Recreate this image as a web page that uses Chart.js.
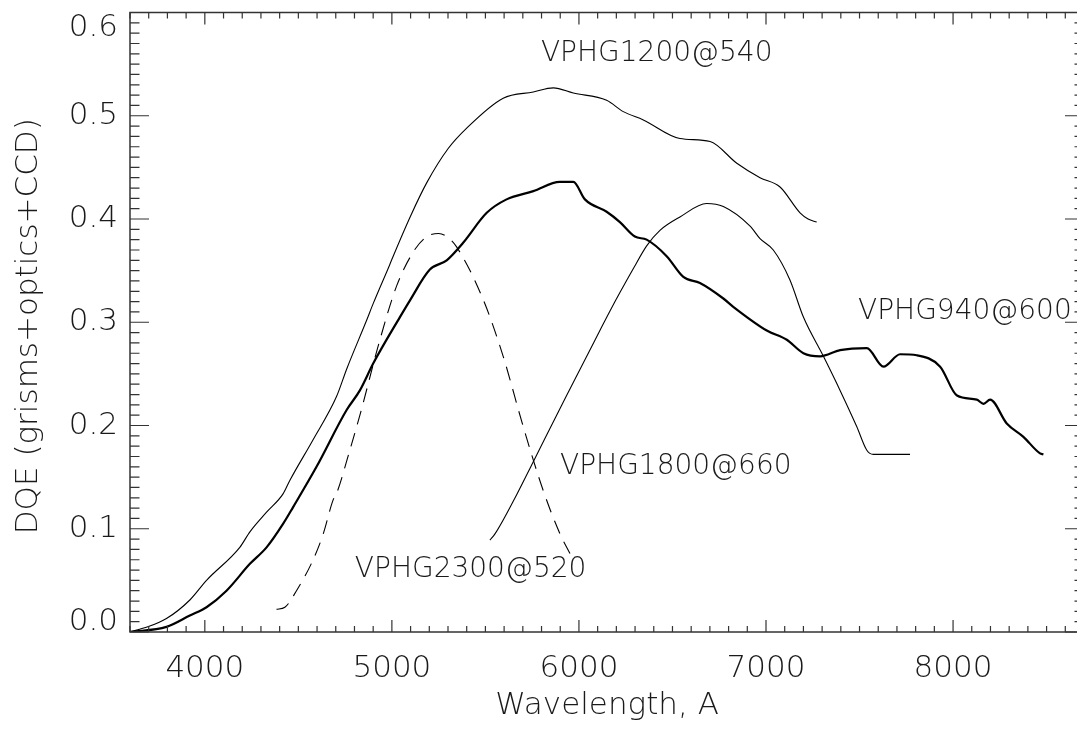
<!DOCTYPE html>
<html>
<head>
<meta charset="utf-8">
<title>DQE of the VPH grisms</title>
<script src="https://cdn.jsdelivr.net/npm/chart.js@4.4.0/dist/chart.umd.min.js"></script>
<style>
  html, body { margin: 0; padding: 0; background: #fff; }
  /* the right-hand axis of the original is cut off by the picture edge */
  #frame { width: 1077px; height: 729px; overflow: hidden; }
  #box { width: 1092px; height: 729px; }
</style>
</head>
<body>
<div id="frame"><div id="box"><canvas id="dqe-chart"></canvas></div></div>
<script>
// VPHG1200@540, thin solid
const wave1200 = [3599, 3695, 3795, 3920, 4009, 4187, 4241, 4330, 4419, 4455, 4578, 4704, 4759, 4865, 4900, 4989, 5007, 5100, 5186, 5300, 5400, 5595, 5756, 5863, 5970, 6148, 6237, 6344, 6540, 6701, 6844, 6968, 7075, 7182, 7225, 7271];
const dqe1200 = [0.0, 0.005, 0.013, 0.031, 0.050, 0.082, 0.097, 0.116, 0.134, 0.147, 0.186, 0.228, 0.255, 0.302, 0.318, 0.356, 0.364, 0.403, 0.435, 0.468, 0.488, 0.517, 0.523, 0.527, 0.522, 0.515, 0.504, 0.496, 0.478, 0.475, 0.454, 0.440, 0.431, 0.406, 0.400, 0.397];

// VPHG940@600, thick solid
const wave940 = [3599, 3795, 3920, 4009, 4116, 4241, 4330, 4419, 4472, 4597, 4758, 4829, 4900, 5043, 5096, 5203, 5293, 5381, 5507, 5613, 5756, 5898, 5970, 6032, 6148, 6219, 6299, 6362, 6469, 6558, 6647, 6772, 6825, 7004, 7111, 7200, 7289, 7396, 7539, 7628, 7717, 7806, 7931, 8021, 8127, 8163, 8198, 8287, 8376, 8465, 8483];
const dqe940 = [0.0, 0.005, 0.016, 0.024, 0.040, 0.066, 0.082, 0.105, 0.121, 0.160, 0.215, 0.234, 0.260, 0.305, 0.321, 0.351, 0.360, 0.377, 0.406, 0.419, 0.427, 0.436, 0.436, 0.419, 0.407, 0.397, 0.383, 0.380, 0.364, 0.344, 0.338, 0.323, 0.315, 0.292, 0.283, 0.270, 0.267, 0.273, 0.275, 0.257, 0.269, 0.268, 0.257, 0.229, 0.225, 0.221, 0.225, 0.202, 0.189, 0.173, 0.172];

// VPHG1800@660, thin solid
const wave1800 = [5524, 5551, 5667, 5756, 5934, 6112, 6166, 6291, 6362, 6433, 6540, 6683, 6772, 6915, 6968, 7039, 7128, 7200, 7307, 7396, 7485, 7539, 7574, 7770];
const dqe1800 = [0.089, 0.095, 0.133, 0.165, 0.229, 0.292, 0.311, 0.352, 0.374, 0.389, 0.402, 0.415, 0.412, 0.393, 0.381, 0.370, 0.341, 0.305, 0.267, 0.234, 0.199, 0.176, 0.172, 0.172];

// VPHG2300@520, dashed
const wave2300 = [4383, 4428, 4490, 4579, 4633, 4686, 4704, 4775, 4829, 4936, 5025, 5114, 5180, 5250, 5300, 5346, 5488, 5595, 5702, 5809, 5899, 5952];
const dqe2300 = [0.022, 0.024, 0.040, 0.070, 0.095, 0.128, 0.134, 0.176, 0.210, 0.283, 0.335, 0.368, 0.382, 0.386, 0.382, 0.373, 0.322, 0.267, 0.199, 0.137, 0.095, 0.076];

const xTicks = [4000, 5000, 6000, 7000, 8000];
const xTickLabels = ['4000', '5000', '6000', '7000', '8000'];
const yTicks = [0.0, 0.1, 0.2, 0.3, 0.4, 0.5, 0.6];
const yTickLabels = ['0.0', '0.1', '0.2', '0.3', '0.4', '0.5', '0.6'];
const gratingNames = ['VPHG1200@540', 'VPHG940@600', 'VPHG1800@660', 'VPHG2300@520'];

const FONT = '200 31px "DejaVu Sans", sans-serif';
const LABEL_FONT = '200 28px "DejaVu Sans", sans-serif';
const INK = '#1a1a1a';

function pairs(xs, ys) {
    return xs.map((x, i) => ({ x: x, y: ys[i] }));
}

// IDL style box: inward ticks on all four sides, labels, titles
const idlFrame = {
    id: 'idlFrame',
    afterDraw(chart) {
        const { ctx, chartArea: a, scales: { x, y } } = chart;
        ctx.save();
        ctx.strokeStyle = '#333';
        ctx.lineWidth = 1.5;
        ctx.strokeRect(a.left, a.top, a.right - a.left, a.bottom - a.top);

        ctx.lineWidth = 1.2;
        ctx.beginPath();
        for (let w = 3600; w <= 8700; w += 100) {
            const px = x.getPixelForValue(w);
            const len = w % 1000 === 0 ? 12 : 6;
            ctx.moveTo(px, a.bottom); ctx.lineTo(px, a.bottom - len);
            ctx.moveTo(px, a.top); ctx.lineTo(px, a.top + len);
        }
        for (let i = 0; i <= 60; i++) {
            const py = y.getPixelForValue(i / 100);
            const len = i % 10 === 0 ? 19 : 9.5;
            ctx.moveTo(a.left, py); ctx.lineTo(a.left + len, py);
            ctx.moveTo(a.right, py); ctx.lineTo(a.right - len, py);
        }
        ctx.stroke();

        ctx.fillStyle = INK;
        ctx.font = FONT;
        ctx.textAlign = 'center';
        ctx.textBaseline = 'middle';
        xTicks.forEach((v, i) => {
            ctx.fillText(xTickLabels[i], x.getPixelForValue(v), a.bottom + 37);
        });
        ctx.textAlign = 'right';
        yTicks.forEach((v, i) => {
            let py = y.getPixelForValue(v);
            // end labels are pushed inside the axis span
            if (i === 0) py -= 10;
            if (i === yTicks.length - 1) py += 15;
            ctx.fillText(yTickLabels[i], a.left - 12, py);
        });

        ctx.textAlign = 'center';
        ctx.fillText('Wavelength, A', (a.left + a.right) / 2, a.bottom + 74);
        ctx.save();
        ctx.translate(29, (a.top + a.bottom) / 2 + 4);
        ctx.rotate(-Math.PI / 2);
        ctx.fillText('DQE (grisms+optics+CCD)', 0, 0);
        ctx.restore();

        // curve names, anchored in data units
        const spots = [[5797, 0.560], [7492, 0.310], [5899, 0.160], [4802, 0.060]];
        ctx.font = LABEL_FONT;
        ctx.textAlign = 'left';
        gratingNames.forEach((name, i) => {
            ctx.fillText(name, x.getPixelForValue(spots[i][0]), y.getPixelForValue(spots[i][1]));
        });
        ctx.restore();
    }
};

document.addEventListener('DOMContentLoaded', () => {
    const ctx = document.getElementById('dqe-chart').getContext('2d');
    const line = (label, xs, ys, width, dash) => ({
        label: label,
        data: pairs(xs, ys),
        borderColor: '#000',
        borderWidth: width,
        borderDash: dash || [],
        pointRadius: 0,
        fill: false,
        cubicInterpolationMode: 'monotone'
    });
    new Chart(ctx, {
        type: 'scatter',
        data: {
            datasets: [
                line(gratingNames[0], wave1200, dqe1200, 1.1),
                line(gratingNames[1], wave940, dqe940, 2.2),
                line(gratingNames[2], wave1800, dqe1800, 1.1),
                line(gratingNames[3], wave2300, dqe2300, 1.1, [14, 9])
            ]
        },
        options: {
            responsive: true,
            maintainAspectRatio: false,
            devicePixelRatio: 1,
            animation: false,
            showLine: true,
            layout: { padding: { left: 0, right: 8, top: 12.5, bottom: 0 } },
            plugins: { legend: { display: false }, tooltip: { enabled: false } },
            scales: {
                x: {
                    type: 'linear', min: 3600, max: 8700,
                    grid: { display: false }, border: { display: false },
                    ticks: { display: false },
                    afterFit: (scale) => { scale.height = 97; }
                },
                y: {
                    type: 'linear', min: 0, max: 0.6,
                    grid: { display: false }, border: { display: false },
                    ticks: { display: false },
                    afterFit: (scale) => { scale.width = 130; }
                }
            }
        },
        plugins: [idlFrame]
    });
});
</script>
</body>
</html>
